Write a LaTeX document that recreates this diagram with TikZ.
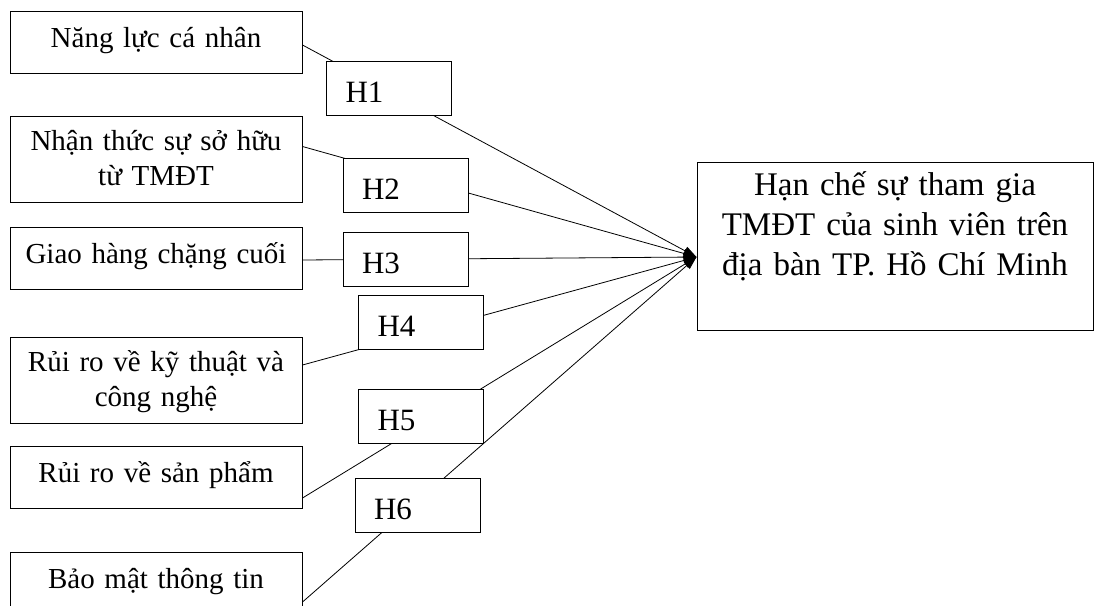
\documentclass[tikz,border=0pt]{standalone}
\usepackage{fontspec}
\setmainfont{Liberation Serif}
\newfontfamily\tightserif[WordSpace=0.7]{Liberation Serif}
\usetikzlibrary{arrows.meta, positioning}

\begin{document}
\begin{tikzpicture}[x=1pt, y=-1pt,
  factor/.style={draw, line width=1pt, text width=284pt, inner xsep=4pt, inner ysep=0pt,
    align=center, text height=36pt, text depth=26pt, font=\tightserif\fontsize{29}{35}\selectfont},
  twoline/.style={text height=34pt, text depth=52pt},
  hyp/.style={draw, fill=white, line width=1pt, inner xsep=19pt, inner ysep=0pt, text width=87pt,
    align=left, text height=41pt, text depth=13pt, font=\fontsize{31}{35}\selectfont},
  link/.style={line width=0.8pt, -{Triangle[length=13pt,width=9pt]}}]
\useasboundingbox (0,0) rectangle (1094,605);

\node (f1) [factor] at (156,42) {Năng lực cá nhân};
\node (f2) [factor, twoline, below=42pt of f1] {Nhận thức sự sở hữu\\từ TMĐT};
\node (f3) [factor, below=24pt of f2] {Giao hàng chặng cuối};
\node (f4) [factor, twoline, below=47pt of f3] {Rủi ro về kỹ thuật và\\công nghệ};
\node (f5) [factor, below=22pt of f4] {Rủi ro về sản phẩm};
\node (f6) [factor, below=43pt of f5] {Bảo mật thông tin};

\node (out) [draw, line width=1pt, inner xsep=4pt, inner ysep=0pt, text width=388pt, align=center,
  text height=33pt, text depth=135pt, font=\fontsize{33}{40}\selectfont] at (895,246)
  {Hạn chế sự tham gia\\TMĐT của sinh viên trên\\địa bàn TP. Hồ Chí Minh};

\draw[link] ([yshift=-3pt]f1.east) -- ([yshift=-11pt]out.west);
\draw[link] ([yshift=12.5pt]f2.east) -- ([yshift=-11pt]out.west);
\draw[link] ([yshift=-2pt]f3.east) -- ([yshift=-11pt]out.west);
\draw[link] ([yshift=15pt]f4.east) -- ([yshift=-11pt]out.west);
\draw[link] ([yshift=-21pt]f5.east) -- ([yshift=-11pt]out.west);
\draw[link] ([yshift=-19pt]f6.east) -- ([yshift=-11pt]out.west);

\node (h1) [hyp] at (389,88) {H1};
\node (h2) [hyp] at (405.5,185.5) {H2};
\node (h3) [hyp] at (405.5,259.5) {H3};
\node (h4) [hyp] at (421,322.5) {H4};
\node (h5) [hyp] at (421,416.5) {H5};
\node (h6) [hyp] at (417.5,505) {H6};
\end{tikzpicture}
\end{document}
